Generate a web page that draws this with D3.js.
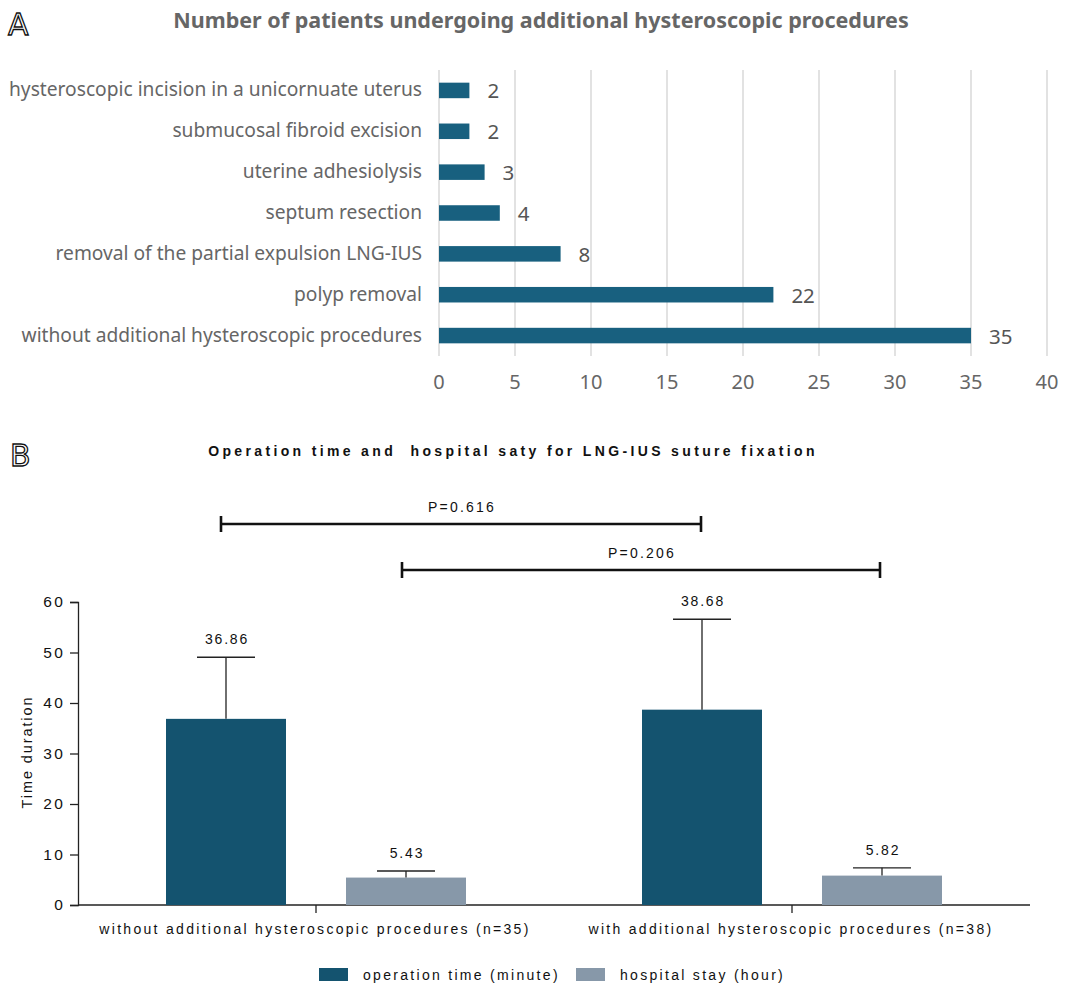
<!DOCTYPE html>
<html><head><meta charset="utf-8">
<script src="https://cdn.jsdelivr.net/npm/d3@7"></script>
<style>
body{margin:0;background:#fff;}
svg{display:block;}
</style></head>
<body>
<svg id="chart" width="1067" height="990"></svg>
<script>
// ---------- Data: panel A ----------
const procCategories = [
  "hysteroscopic incision in a unicornuate uterus",
  "submucosal fibroid excision",
  "uterine adhesiolysis",
  "septum resection",
  "removal of the partial expulsion LNG-IUS",
  "polyp removal",
  "without additional hysteroscopic procedures"
];
const procCounts = [2, 2, 3, 4, 8, 22, 35];
const procTicks = [0, 5, 10, 15, 20, 25, 30, 35, 40];

// ---------- Data: panel B ----------
const groups = ["without additional hysteroscopic procedures (n=35)", "with additional hysteroscopic procedures (n=38)"];
const seriesNames = ["operation time (minute)", "hospital stay (hour)"];
const operationMean = [36.86, 38.68];
const operationSD = [12.2, 17.9];
const stayMean = [5.43, 5.82];
const staySD = [1.3, 1.55];
const yTicksB = [0, 10, 20, 30, 40, 50, 60];
const pValues = ["P=0.616", "P=0.206"];

const svg = d3.select("#chart");

// ---------- Panel labels ----------
function panelLetter(t, x, y) {
  svg.append("text").attr("x", x).attr("y", y).text(t)
    .attr("font-family", "DejaVu Sans, sans-serif").attr("font-size", 30)
    .attr("fill", "#fff").attr("stroke", "#111").attr("stroke-width", 1.3);
}
panelLetter("A", 8, 35);
panelLetter("B", 10, 466);

// ---------- Panel A ----------
const colA = "#18607f";
const fontA = "Noto Sans, Open Sans, sans-serif";
const xA = d3.scaleLinear().domain([0, 40]).range([439, 1047]);
const yA = d3.scaleBand().domain(procCategories).range([70, 356]).paddingInner(0.62).paddingOuter(0.31);
const gA = svg.append("g");

gA.append("text").attr("x", 541).attr("y", 28).attr("text-anchor", "middle")
  .attr("font-family", fontA).attr("font-weight", "bold")
  .attr("font-size", 21.5).attr("fill", "#666").text("Number of patients undergoing additional hysteroscopic procedures");

gA.selectAll("line.grid").data(procTicks).join("line")
  .attr("x1", d => xA(d)).attr("x2", d => xA(d)).attr("y1", 70).attr("y2", 356)
  .attr("stroke", "#d9d9d9").attr("stroke-width", 1.5);

gA.selectAll("text.tick").data(procTicks).join("text")
  .attr("x", d => xA(d)).attr("y", 389).attr("text-anchor", "middle")
  .attr("font-family", fontA).attr("font-size", 20).attr("fill", "#666")
  .text(d => d);

gA.selectAll("rect.bar").data(procCategories).join("rect")
  .attr("x", xA(0)).attr("y", d => yA(d))
  .attr("width", (d, i) => xA(procCounts[i]) - xA(0)).attr("height", yA.bandwidth())
  .attr("fill", colA);

gA.selectAll("text.val").data(procCategories).join("text")
  .attr("x", (d, i) => xA(procCounts[i]) + 18).attr("y", d => yA(d) + yA.bandwidth() / 2 + 8)
  .attr("font-family", fontA).attr("font-size", 20.5).attr("fill", "#555")
  .text((d, i) => procCounts[i]);

gA.selectAll("text.cat").data(procCategories).join("text")
  .attr("x", 422).attr("y", d => yA(d) + yA.bandwidth() / 2 + 6).attr("text-anchor", "end")
  .attr("font-family", fontA).attr("font-size", 19.2).attr("fill", "#666")
  .text(d => d);

// ---------- Panel B ----------
const colDark = "#14536f";
const colLight = "#8798a9";
const fontB = "Liberation Sans, Arial, sans-serif";
const yB = d3.scaleLinear().domain([0, 60]).range([905, 602]);
const xB = d3.scaleBand().domain(groups).range([78, 1030]).paddingOuter(0.0).paddingInner(0);
const xSub = d3.scaleBand().domain(seriesNames).range([-150, 150]).paddingInner(1 / 3).paddingOuter(0);
const gB = svg.append("g");

gB.append("text").attr("x", 513).attr("y", 456).attr("text-anchor", "middle")
  .attr("font-family", fontB).attr("font-weight", "bold").attr("font-size", 14)
  .attr("letter-spacing", 3.35).attr("fill", "#111")
  .style("white-space", "pre")
  .text("Operation time and  hospital saty for LNG-IUS suture fixation");

const center = g => xB(g) + xB.bandwidth() / 2;

// axes
const yAxis = d3.axisLeft(yB).tickValues(yTicksB).tickSize(8).tickPadding(5);
const yAx = gB.append("g").attr("transform", "translate(78,0)").call(yAxis);
yAx.select(".domain").attr("stroke", "#222").attr("stroke-width", 1.3);
yAx.selectAll(".tick line").attr("stroke", "#222").attr("stroke-width", 1.3);
yAx.selectAll(".tick text").attr("font-family", fontB).attr("font-size", 15.5)
  .attr("letter-spacing", 2.2).attr("fill", "#111");

gB.append("line").attr("x1", 78).attr("x2", 1030).attr("y1", 905).attr("y2", 905)
  .attr("stroke", "#222").attr("stroke-width", 1.3);
gB.selectAll("line.xt").data(groups).join("line")
  .attr("x1", d => center(d)).attr("x2", d => center(d)).attr("y1", 905).attr("y2", 913)
  .attr("stroke", "#222").attr("stroke-width", 1.3);
gB.selectAll("text.xl").data(groups).join("text")
  .attr("x", d => center(d) - 1).attr("y", 934).attr("text-anchor", "middle")
  .attr("font-family", fontB).attr("font-size", 14).attr("letter-spacing", 2.3).attr("fill", "#111")
  .text(d => d);

gB.append("text").attr("transform", "translate(32,752) rotate(-90)").attr("text-anchor", "middle")
  .attr("font-family", fontB).attr("font-size", 14.5).attr("letter-spacing", 1.9).attr("fill", "#111")
  .text("Time duration");

// bars
const seriesData = [
  { name: seriesNames[0], mean: operationMean, sd: operationSD, color: colDark },
  { name: seriesNames[1], mean: stayMean, sd: staySD, color: colLight }
];
const barCenters = {};
seriesData.forEach(s => {
  groups.forEach((g, i) => {
    const x0 = center(g) + xSub(s.name);
    const w = xSub.bandwidth();
    const cx = x0 + w / 2;
    barCenters[s.name + i] = cx;
    gB.append("rect").attr("x", x0).attr("y", yB(s.mean[i])).attr("width", w)
      .attr("height", yB(0) - yB(s.mean[i])).attr("fill", s.color);
    const top = yB(s.mean[i] + s.sd[i]);
    gB.append("line").attr("x1", cx).attr("x2", cx).attr("y1", yB(s.mean[i])).attr("y2", top)
      .attr("stroke", "#222").attr("stroke-width", 1.3);
    gB.append("line").attr("x1", cx - 29).attr("x2", cx + 29).attr("y1", top).attr("y2", top)
      .attr("stroke", "#222").attr("stroke-width", 1.3);
    gB.append("text").attr("x", cx + 1).attr("y", top - 13).attr("text-anchor", "middle")
      .attr("font-family", fontB).attr("font-size", 14).attr("letter-spacing", 1.8).attr("fill", "#111")
      .text(s.mean[i].toFixed(2));
  });
});

// significance brackets
const brackets = [
  { x1: barCenters[seriesNames[0] + 0] - 5, x2: barCenters[seriesNames[0] + 1] - 1, y: 524, label: pValues[0] },
  { x1: barCenters[seriesNames[1] + 0] - 4, x2: barCenters[seriesNames[1] + 1] - 2, y: 570, label: pValues[1] }
];
brackets.forEach(b => {
  gB.append("line").attr("x1", b.x1).attr("x2", b.x2).attr("y1", b.y).attr("y2", b.y)
    .attr("stroke", "#111").attr("stroke-width", 2.6);
  [b.x1, b.x2].forEach(x => gB.append("line").attr("x1", x).attr("x2", x)
    .attr("y1", b.y - 8).attr("y2", b.y + 8).attr("stroke", "#111").attr("stroke-width", 2.6));
  gB.append("text").attr("x", (b.x1 + b.x2) / 2 + 1).attr("y", b.y - 12).attr("text-anchor", "middle")
    .attr("font-family", fontB).attr("font-size", 14).attr("letter-spacing", 2.2).attr("fill", "#111")
    .text(b.label);
});

// legend
const legend = gB.append("g");
const legX = [319, 576];
seriesData.forEach((s, i) => {
  legend.append("rect").attr("x", legX[i]).attr("y", 968).attr("width", 29).attr("height", 13).attr("fill", s.color);
  legend.append("text").attr("x", legX[i] + 44).attr("y", 980)
    .attr("font-family", fontB).attr("font-size", 14).attr("letter-spacing", 2.3).attr("fill", "#111")
    .text(s.name);
});
</script>
</body></html>
